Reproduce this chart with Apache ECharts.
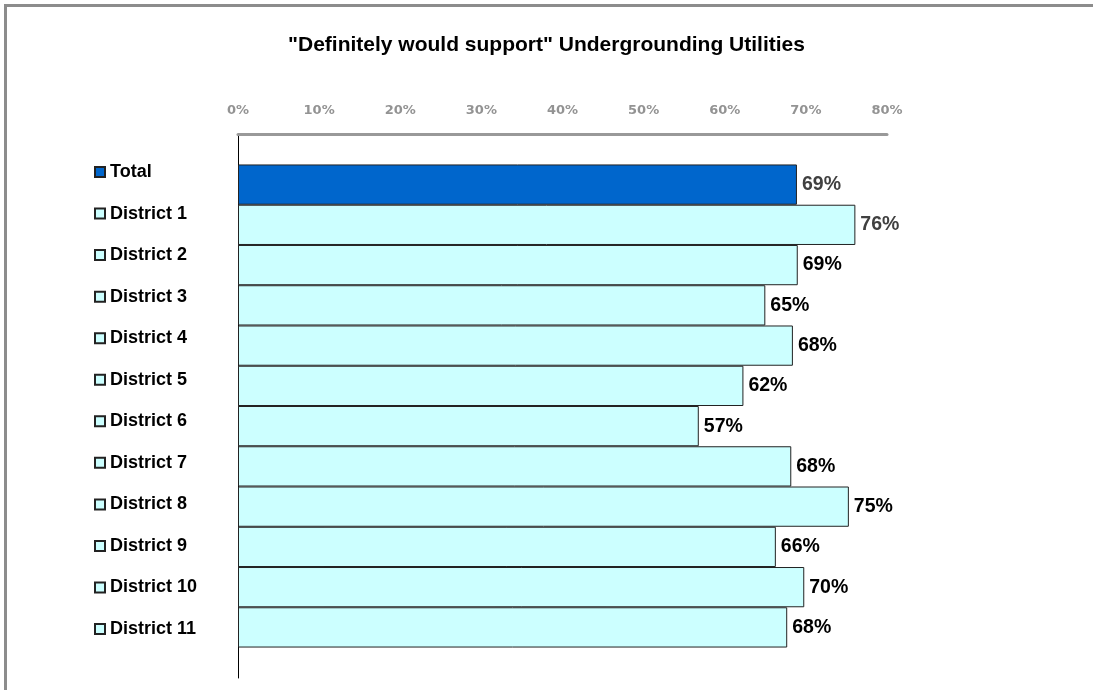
<!DOCTYPE html>
<html>
<head>
<meta charset="utf-8">
<script src="https://cdn.jsdelivr.net/npm/echarts@6/dist/echarts.min.js"></script>
<style>
html,body{margin:0;padding:0;background:#fff;}
#frame{position:absolute;left:4px;top:4px;width:1089px;height:686px;border-top:3px solid #8c8c8c;border-left:3px solid #8c8c8c;box-sizing:border-box;}
#chart{position:absolute;left:0;top:0;width:1093px;height:690px;}
</style>
</head>
<body>
<div id="frame"></div>
<div id="chart"></div>
<script>
var titleText = '"Definitely would support" Undergrounding Utilities';
var names = ['Total','District 1','District 2','District 3','District 4','District 5','District 6','District 7','District 8','District 9','District 10','District 11'];
var values = [68.9, 76.1, 69.0, 65.0, 68.4, 62.3, 56.8, 68.2, 75.3, 66.3, 69.8, 67.7];
var colors = ['#0066CC','#CCFFFF','#CCFFFF','#CCFFFF','#CCFFFF','#CCFFFF','#CCFFFF','#CCFFFF','#CCFFFF','#CCFFFF','#CCFFFF','#CCFFFF'];
var labelColors = ['#404040','#404040','#000','#000','#000','#000','#000','#000','#000','#000','#000','#000'];
var xTicks = [0, 10, 20, 30, 40, 50, 60, 70, 80];

var FONT = '"Liberation Sans", Arial, sans-serif';
var TICKFONT = '"DejaVu Sans", Verdana, sans-serif';
var series = names.map(function(n, i){
  return {
    name: n,
    type: 'bar',
    data: [values[i]],
    barGap: '0%',
    barCategoryGap: '11.2%',
    itemStyle: { color: colors[i], borderColor: '#222', borderWidth: 1 },
    label: {
      show: true, position: 'right', distance: 5,
      formatter: function(p){ return Math.round(p.value) + '%'; },
      fontFamily: FONT, fontWeight: 'bold', fontSize: 19.5, color: labelColors[i]
    },
    emphasis: { disabled: true },
    animation: false
  };
});

var chart = echarts.init(document.getElementById('chart'), null, {renderer: 'canvas'});
chart.setOption({
  backgroundColor: 'transparent',
  animation: false,
  title: {
    text: titleText, left: 'center', top: 30,
    textStyle: { fontFamily: FONT, fontWeight: 'bold', fontSize: 21, color: '#000' }
  },
  legend: {
    orient: 'vertical', left: 89, top: 157,
    itemWidth: 10, itemHeight: 10, itemGap: 21.55,
    icon: 'rect',
    selectedMode: false,
    data: names,
    textStyle: { fontFamily: FONT, fontWeight: 'bold', fontSize: 18, color: '#000', lineHeight: 20 }
  },
  grid: { left: 238, right: 206, top: 134, bottom: 12, containLabel: false },
  xAxis: {
    type: 'value', position: 'top', min: xTicks[0], max: xTicks[xTicks.length - 1], interval: 10,
    axisLine: { show: true, lineStyle: { color: '#999', width: 3 } },
    axisTick: { show: false },
    splitLine: { show: false },
    axisLabel: {
      margin: 17,
      formatter: function(v){ return v + '%'; },
      fontFamily: TICKFONT, fontWeight: 'bold', fontSize: 13, color: '#939393'
    }
  },
  yAxis: {
    type: 'category', data: [''], inverse: true,
    axisLine: { show: true, lineStyle: { color: '#000', width: 1 } },
    axisTick: { show: false },
    axisLabel: { show: false }
  },
  series: series
});
</script>
</body>
</html>
